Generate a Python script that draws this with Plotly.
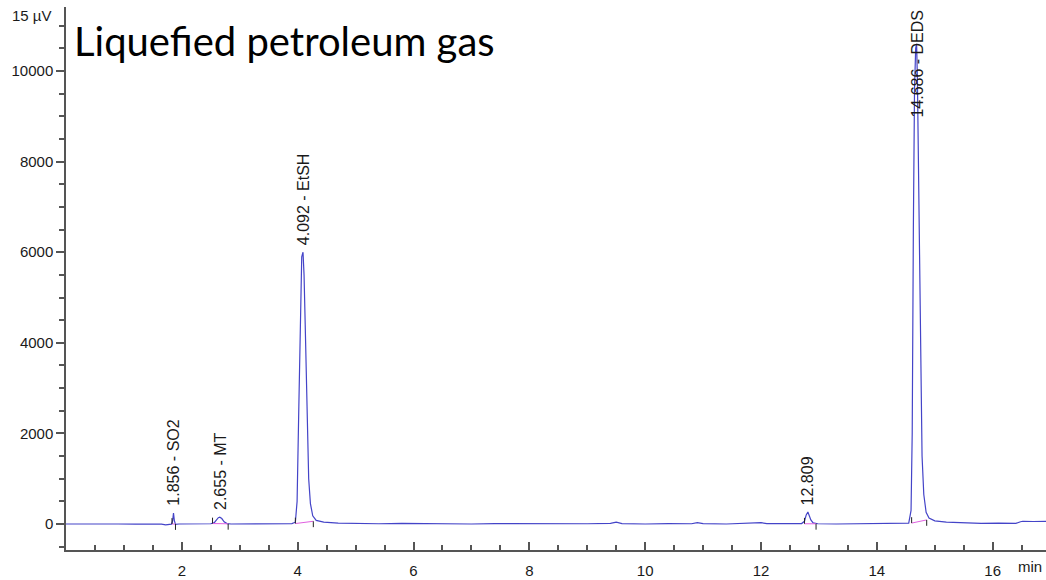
import plotly.graph_objects as go

# Chromatogram trace (time in min, signal in µV)
time_min = [0.0, 0.3, 0.6, 0.9, 1.2, 1.5, 1.65, 1.72, 1.78, 1.82, 1.84, 1.856, 1.87, 1.89, 1.95,
            2.1, 2.3, 2.5, 2.56, 2.6, 2.63, 2.655, 2.69, 2.73, 2.78, 2.85, 3.1, 3.4, 3.7, 3.9,
            3.96, 3.99, 4.02, 4.05, 4.07, 4.092, 4.11, 4.13, 4.15, 4.17, 4.19, 4.22, 4.26, 4.32,
            4.45, 4.7, 5.0, 5.4, 5.8, 6.2, 6.6, 7.0, 7.4, 7.8, 8.2, 8.6, 9.0, 9.4, 9.5, 9.6, 10.0,
            10.4, 10.8, 10.9, 11.0, 11.4, 11.8, 12.0, 12.1, 12.4, 12.7, 12.75, 12.78, 12.809, 12.83,
            12.86, 12.9, 12.98, 13.3, 13.7, 14.1, 14.4, 14.55, 14.59, 14.61, 14.63, 14.65, 14.67,
            14.686, 14.70, 14.72, 14.74, 14.76, 14.78, 14.81, 14.85, 14.9, 15.0, 15.2, 15.5, 15.8,
            16.1, 16.4, 16.48, 16.52, 16.7, 16.92]
signal_uv = [0, 5, -5, 0, -5, 0, -5, -20, -15, -5, 60, 240, 80, -10, 0,
             5, 0, 5, 30, 100, 140, 150, 120, 50, 10, 0, 5, 0, 5, 10,
             40, 500, 2600, 5200, 5900, 6000, 5500, 4400, 3000, 1800, 1000, 450, 180, 80,
             40, 20, 10, 5, 15, 5, 10, 0, 10, 5, 0, 10, 5, 15, 40, 10, 0,
             10, 5, 30, 10, 0, 10, 30, 10, 5, 10, 60, 200, 265, 200,
             90, 25, 5, 0, 5, 0, 5, 20, 300, 2000, 6500, 9600, 10500,
             10600, 9800, 7800, 5000, 2800, 1500, 650, 260, 130, 70, 40, 25, 15,
             20, 15, 50, 60, 55, 60]

# Peak annotations
peak_times = [1.856, 2.655, 4.092, 12.809, 14.686]
peak_heights = [240, 150, 6000, 265, 10600]
peak_labels = ["1.856 - SO2", "2.655 - MT", "4.092 - EtSH", "12.809", "14.686 - DEDS"]

# Integration limits of each peak
peak_start = [1.83, 2.53, 3.96, 12.75, 14.60]
peak_end = [1.89, 2.80, 4.27, 12.95, 14.86]
base_start = [0, 10, 10, 5, 20]
base_end = [0, 5, 60, 5, 90]

y_tick_vals = [0, 2000, 4000, 6000, 8000, 10000]
y_tick_text = ["0", "2000", "4000", "6000", "8000", "10000"]
x_tick_vals = [2, 4, 6, 8, 10, 12, 14, 16]
x_tick_text = ["2", "4", "6", "8", "10", "12", "14", "16"]

X_RANGE = [0, 16.92]
Y_RANGE = [-574, 11413]
TOP_LABEL_Y = 11000   # cap for labels that would exceed the plot

FONT = "Arial, Liberation Sans, sans-serif"
TXT = "#1a1a1a"

fig = go.Figure()

fig.add_trace(go.Scatter(x=time_min, y=signal_uv, mode="lines",
                         line=dict(color="#4444c8", width=1.2), hoverinfo="skip"))

# pink integration baselines
bx, by = [], []
for s, e, ys, ye in zip(peak_start, peak_end, base_start, base_end):
    bx += [s, e, None]
    by += [ys, ye, None]
fig.add_trace(go.Scatter(x=bx, y=by, mode="lines",
                         line=dict(color="#e060e0", width=1), hoverinfo="skip"))

# black delimiter ticks
tx, ty = [], []
for s, e, ys, ye in zip(peak_start, peak_end, base_start, base_end):
    tx += [s, s, None, e, e, None]
    ty += [ys, ys + 130, None, ye, ye - 130, None]
fig.add_trace(go.Scatter(x=tx, y=ty, mode="lines",
                         line=dict(color="#222222", width=1), hoverinfo="skip"))

for t, h, lab in zip(peak_times, peak_heights, peak_labels):
    if h + 2500 > TOP_LABEL_Y:
        fig.add_annotation(x=t, y=Y_RANGE[1], xref="x", yref="y", text=lab,
                           textangle=-90, showarrow=False, yanchor="top", xanchor="center",
                           yshift=-1,
                           font=dict(family=FONT, size=16, color=TXT))
    else:
        fig.add_annotation(x=t, y=h, xref="x", yref="y", text=lab,
                           textangle=-90, showarrow=False, yanchor="bottom", xanchor="center",
                           yshift=5,
                           font=dict(family=FONT, size=16, color=TXT))

fig.add_annotation(x=0, y=1, xref="paper", yref="paper", text="Liquefied petroleum gas",
                   showarrow=False, xanchor="left", yanchor="top", xshift=6, yshift=-8,
                   font=dict(family="Lato, Open Sans", size=40, color="#000000"))
fig.add_annotation(x=0, y=1, xref="paper", yref="paper", text="15 µV",
                   showarrow=False, xanchor="right", yanchor="top", xshift=-12, yshift=2,
                   font=dict(family=FONT, size=15, color=TXT))
fig.add_annotation(x=1, y=0, xref="paper", yref="paper", text="min",
                   showarrow=False, xanchor="right", yanchor="top", xshift=-2, yshift=-6,
                   font=dict(family=FONT, size=15, color=TXT))

fig.update_layout(
    width=1046, height=580,
    margin=dict(l=66, r=0, t=7, b=30),
    paper_bgcolor="white", plot_bgcolor="white",
    showlegend=False,
    xaxis=dict(range=X_RANGE, showgrid=False, zeroline=False, showline=True,
               linecolor="#555555", linewidth=1.5,
               tickmode="array", tickvals=x_tick_vals, ticktext=x_tick_text,
               ticks="inside", ticklen=8, ticklabelstandoff=6,
               tickcolor="#555555", tickwidth=1.5,
               minor=dict(dtick=0.5, tick0=0, ticks="inside", ticklen=5,
                          tickcolor="#555555", tickwidth=1.5),
               tickfont=dict(family=FONT, size=15, color=TXT)),
    yaxis=dict(range=Y_RANGE, showgrid=False, zeroline=False, showline=True,
               linecolor="#555555", linewidth=1.5,
               tickmode="array", tickvals=y_tick_vals, ticktext=y_tick_text,
               ticks="outside", ticklen=8,
               tickcolor="#555555", tickwidth=1.5,
               minor=dict(dtick=500, tick0=0, ticks="outside", ticklen=5,
                          tickcolor="#555555", tickwidth=1.5),
               tickfont=dict(family=FONT, size=15, color=TXT)),
)

fig.write_html("out.html")
